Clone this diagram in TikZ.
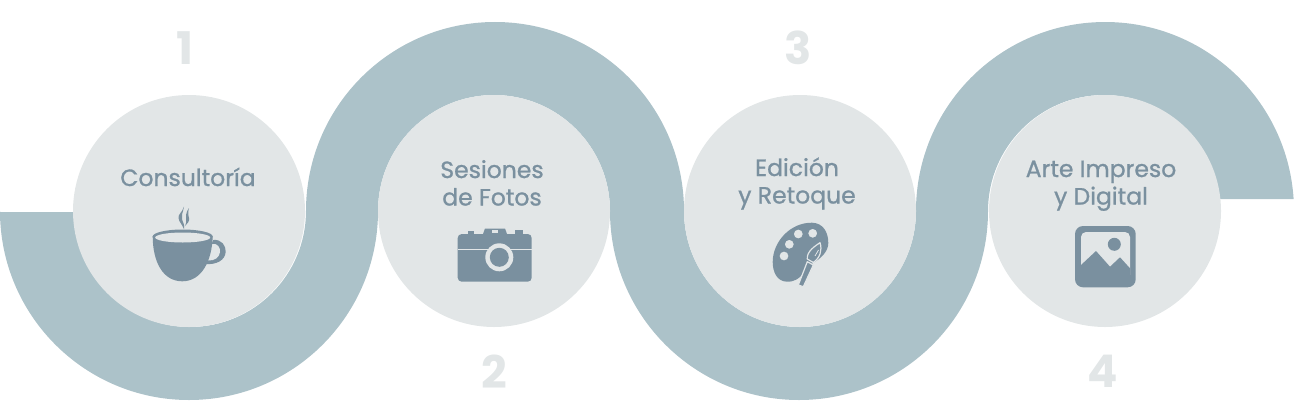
\documentclass[tikz,border=0pt]{standalone}
\usepackage{fontspec}
\setmainfont{Poppins}
\newfontfamily\labelfont[FakeBold=1]{Poppins}
\definecolor{band}{HTML}{ACC2C9}
\definecolor{disc}{HTML}{E2E6E7}
\definecolor{slate}{HTML}{7A909F}
\begin{document}
\begin{tikzpicture}[
  x=1pt, y=-1pt,
  stage/.style={circle, fill=disc, minimum size=232pt, inner sep=0pt},
  caption/.style={text=slate, align=center, inner sep=0pt, anchor=base,
    font=\labelfont\fontsize{23.5}{27.5}\selectfont},
  numeral/.style={text=disc, inner sep=0pt, font=\fontsize{45}{45}\selectfont\bfseries}
]
  \useasboundingbox (0,0) rectangle (1295,402);
  \fill[band] (0,212) -- (0,211) arc[start angle=180, end angle=0, radius=189]
    arc[start angle=180, end angle=360, radius=116]
    arc[start angle=180, end angle=0, radius=189]
    arc[start angle=180, end angle=354.06, radius=116]
    -- (1293.6,199)
    arc[start angle=356.36, end angle=180, radius=189]
    arc[start angle=0, end angle=180, radius=116]
    arc[start angle=360, end angle=180, radius=189]
    arc[start angle=0, end angle=180, radius=116] -- (73,212) -- cycle;
  \node[stage] (consult) at (189,211) {};
  \node[stage] (photos) at (494,211) {};
  \node[stage] (retouch) at (800,211) {};
  \node[stage] (print) at (1105,211) {};
  \node[numeral] (one) at (185,48) {1};
  \node[numeral] (two) at (494,372) {2};
  \node[numeral] (three) at (798,48) {3};
  \node[numeral] (four) at (1103,371) {4};
  \node[caption] (consultlabel) at (188,186) {Consultoría};
  \node[caption] (photoslabel) at (492,205.5) {Sesiones\\de Fotos};
  \node[caption] (retouchlabel) at (797,203.5) {Edición\\y Retoque};
  \node[caption] (printlabel) at (1101,204.5) {Arte Impreso\\y Digital};
  % cup
  \fill[slate] (178.5,218) .. controls (178,214) and (182,213) .. (184,206.5)
    .. controls (183,213) and (181,215) .. (182,219) .. controls (183,223) and (185,225) .. (184,229)
    .. controls (182,224) and (179,222) .. (178.5,218) -- cycle;
  \fill[slate] (186,215) .. controls (186,212) and (188,210) .. (189,208)
    .. controls (188,212) and (188,214) .. (189,218) .. controls (190,221) and (187,224) .. (185,226)
    .. controls (187,222) and (186,219) .. (186,215) -- cycle;
  \fill[slate] (213,240) .. controls (222,239) and (226,246) .. (225.7,252)
    .. controls (225,260) and (217,265) .. (205,264) -- cycle;
  \fill[disc] (212,244) .. controls (218,243) and (220.5,248) .. (220,252)
    .. controls (219.5,257) and (215,261) .. (208,260.5) -- cycle;
  \fill[slate] (152.7,236) .. controls (152.7,262) and (163,281.3) .. (182.3,281.3)
    .. controls (201,281.3) and (212,262) .. (212.7,236) -- cycle;
  \fill[slate] (182.7,236.5) ellipse[x radius=30, y radius=7];
  \fill[disc] (182.7,237.5) ellipse[x radius=27.5, y radius=5];
  % camera
  \fill[slate, rounded corners=4pt] (457.7,234) rectangle (531.7,281.7);
  \fill[slate] (483,234) -- (485,228.5) -- (505,228.5) -- (507,234) -- cycle;
  \fill[disc] (491.5,229.5) rectangle (498,232.5);
  \fill[slate] (467.7,231.2) rectangle (474.3,234);
  \fill[slate] (515,230.2) rectangle (523.3,234);
  \fill[disc] (457.7,248.8) rectangle (531.7,250.3);
  \fill[disc] (499.3,257.3) circle[radius=14];
  \fill[slate] (499.3,257.3) circle[radius=9.5];
  % palette
  \fill[slate, even odd rule] (812,222.7) .. controls (823,223) and (828.3,232) .. (828.3,243)
    .. controls (828.3,252) and (820,259) .. (813,263) .. controls (805,268) and (802,282) .. (787,281.7)
    .. controls (777,281.5) and (772.7,272) .. (772.7,262) .. controls (772.7,242) and (790,222.5) .. (812,222.7) -- cycle
    (812.7,233.3) circle[radius=4.5] (798.3,234) circle[radius=4.5]
    (789.3,244.3) circle[radius=4.5] (784,256) circle[radius=4.5];
  \fill[slate, draw=disc, line width=1.2pt, line join=round] (798.3,285) -- (807.3,261.7) -- (813.3,265) -- (803.3,286.7) -- cycle;
  \fill[slate, draw=disc, line width=1.2pt, line join=round] (807.3,259) .. controls (806.5,251.5) and (815,246) .. (820,242.7)
    .. controls (822.5,250) and (820,258) .. (813.3,262.5) -- cycle;
  \draw[disc, line width=.8pt] (815,256) -- (818.5,250);
  % picture frame
  \fill[slate, rounded corners=8pt] (1075,226) rectangle (1135.7,287.3);
  \fill[disc, rounded corners=5pt] (1081,232) rectangle (1130,280);
  \fill[slate] (1114.3,244.3) circle[radius=6.5];
  \fill[slate] (1081,265) -- (1096,251) -- (1110,266.7) -- (1120,257.3) -- (1130,268.3) -- (1130,281.5) -- (1081,281.5) -- cycle;
\end{tikzpicture}
\end{document}
